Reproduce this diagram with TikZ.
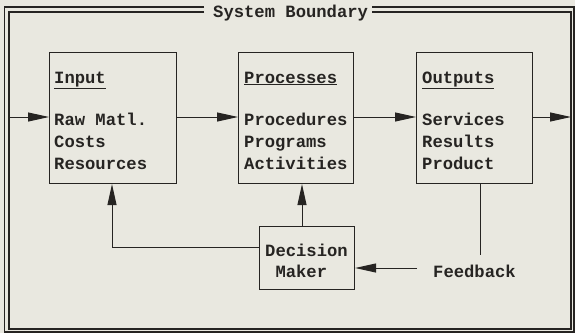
\documentclass[tikz,border=0pt]{standalone}
\usepackage{fontspec}
\setmonofont{Liberation Mono}[BoldFont={Liberation Mono Bold}]
\usetikzlibrary{arrows.meta}
\definecolor{bg}{RGB}{233,232,224}
\definecolor{ink}{RGB}{38,36,34}
\tikzset{
  x=1pt,y=-1pt,
  frameline/.style={draw=ink,line width=1.1pt},
  boxnode/.style={draw=ink,line width=1.1pt,fill=bg,inner sep=0pt,anchor=north west},
  txt/.style={text=ink,font=\ttfamily\bfseries\fontsize{17.2}{22}\selectfont,inner sep=0pt,align=left,anchor=base west},
  conn/.style={draw=ink,line width=1pt},
  arr/.style={conn,-{Triangle[length=21pt,width=9pt]}},
}
\begin{document}
\begin{tikzpicture}
\fill[bg] (0,0) rectangle (575,333);
\useasboundingbox (0,0) rectangle (575,333);
% system boundary frame (double line)
\draw[frameline] (204,7) -- (4.7,7) -- (4.7,332) -- (574,332) -- (574,7) -- (372,7);
\draw[frameline] (204,12) -- (9,12) -- (9,329) -- (571,329) -- (571,12) -- (372,12);
\node[txt] (sb) at (213,17) {System Boundary};
\coordinate (lin) at (9,117);
\coordinate (rout) at (571,117);
% boxes
\node[boxnode,minimum width=127,minimum height=131] (in) at (49,52) {};
\node[boxnode,minimum width=115,minimum height=131] (pr) at (238,52) {};
\node[boxnode,minimum width=116,minimum height=131] (ou) at (416,52) {};
\node[boxnode,minimum width=95,minimum height=63] (dm) at (259,226) {};
% texts (base anchor = baseline of last line)
\node[txt] (inh) at (54,83) {\underline{Input}};
\node[txt] (inb) at (54,169.5) {Raw Matl.\\Costs\\Resources};
\node[txt] (prh) at (244,83) {\underline{Processes}};
\node[txt] (prb) at (244,169.5) {Procedures\\Programs\\Activities};
\node[txt] (ouh) at (422,83) {\underline{Outputs}};
\node[txt] (oub) at (422,169.5) {Services\\Results\\Product};
\node[txt,font=\ttfamily\bfseries\fontsize{17.2}{21}\selectfont] (dmt) at (265,277) {Decision\\\hspace{0.6em}Maker};
\node[txt] (fb) at (433,277) {Feedback};
\coordinate (fbend) at (480,255);
% connectors
\draw[arr] (lin) -- (in.west |- lin);
\draw[arr] (in.east |- lin) -- (pr.west |- lin);
\draw[arr] (pr.east |- lin) -- (ou.west |- lin);
\draw[arr] (ou.east |- lin) -- (rout);
\draw[arr] (dm.west |- 0,247) -- (112,247) -- (112,0 |- in.south);
\draw[arr] (302,0 |- dm.north) -- (302,0 |- pr.south);
\draw[conn] (480,0 |- ou.south) -- (fbend);
\draw[arr] (417,268) -- (dm.east |- 0,268);
\end{tikzpicture}
\end{document}
